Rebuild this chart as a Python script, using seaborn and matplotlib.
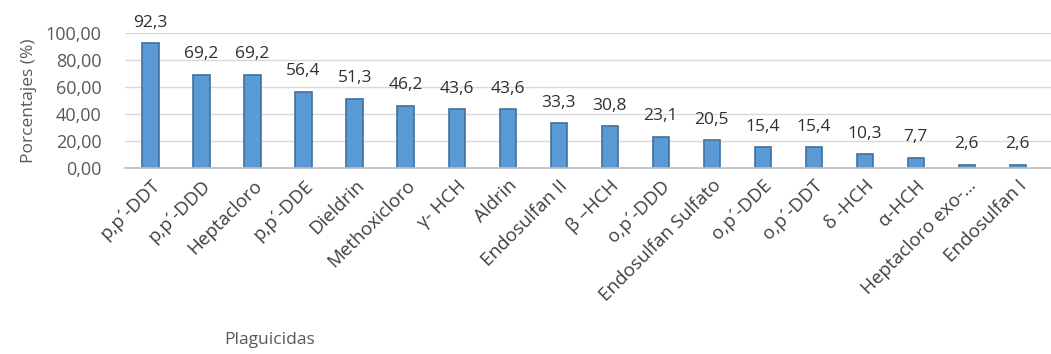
import matplotlib
matplotlib.use("Agg")
import matplotlib.pyplot as plt
import seaborn as sns
import pandas as pd

plaguicidas = [
    "p,p´-DDT", "p,p´-DDD", "Heptacloro", "p,p´-DDE", "Dieldrin",
    "Methoxicloro", "γ- HCH", "Aldrin", "Endosulfan II", "β –HCH",
    "o,p´-DDD", "Endosulfan Sulfato", "o,p´-DDE", "o,p´-DDT",
    "δ -HCH", "α-HCH", "Heptacloro exo-…", "Endosulfan I",
]
porcentajes = [92.3, 69.2, 69.2, 56.4, 51.3, 46.2, 43.6, 43.6, 33.3, 30.8,
               23.1, 20.5, 15.4, 15.4, 10.3, 7.7, 2.6, 2.6]
y_ticks = [0, 20, 40, 60, 80, 100]

sns.set_theme(style="white")
plt.rcParams["font.family"] = ["Open Sans", "DejaVu Sans"]

df = pd.DataFrame({"Plaguicida": plaguicidas, "Porcentaje": porcentajes})

fig = plt.figure(figsize=(10.51, 3.54), dpi=100)
ax = fig.add_axes([0.119, 0.525, 0.881, 0.382])

sns.barplot(data=df, x="Plaguicida", y="Porcentaje", ax=ax,
            color="#5B9BD5", edgecolor="#41719C", linewidth=1.2,
            width=0.32, saturation=1.0)

ax.set_ylim(0, 100)
ax.set_xlim(-0.5, 17.65)
ax.set_yticks(y_ticks)
ax.set_yticklabels([f"{v:.2f}".replace(".", ",") for v in y_ticks],
                   fontsize=13, color="#595959")
ax.yaxis.grid(True, color="#D9D9D9", linewidth=1.0)
ax.set_axisbelow(True)
for side in ["top", "right", "left"]:
    ax.spines[side].set_visible(False)
ax.spines["bottom"].set_color("#BFBFBF")
ax.tick_params(axis="y", length=0, pad=17)

ax.set_xticks(range(len(plaguicidas)))
ax.set_xticklabels(plaguicidas, rotation=45, ha="right",
                   rotation_mode="anchor", fontsize=13.5, color="#404040")
ax.tick_params(axis="x", length=0, pad=6)

for i, v in enumerate(porcentajes):
    ax.annotate(f"{v:.1f}".replace(".", ","), (i, v),
                xytext=(0, 9), textcoords="offset points",
                ha="center", va="bottom", fontsize=12.5, color="#303030",
                annotation_clip=False)

ax.set_xlabel("")
ax.set_ylabel("Porcentajes (%)", fontsize=12.5, color="#595959", labelpad=6)
fig.text(0.257, 0.04, "Plaguicidas", ha="center", va="center",
         fontsize=12.5, color="#595959")

fig.savefig("out.png", dpi=100, facecolor="white")
